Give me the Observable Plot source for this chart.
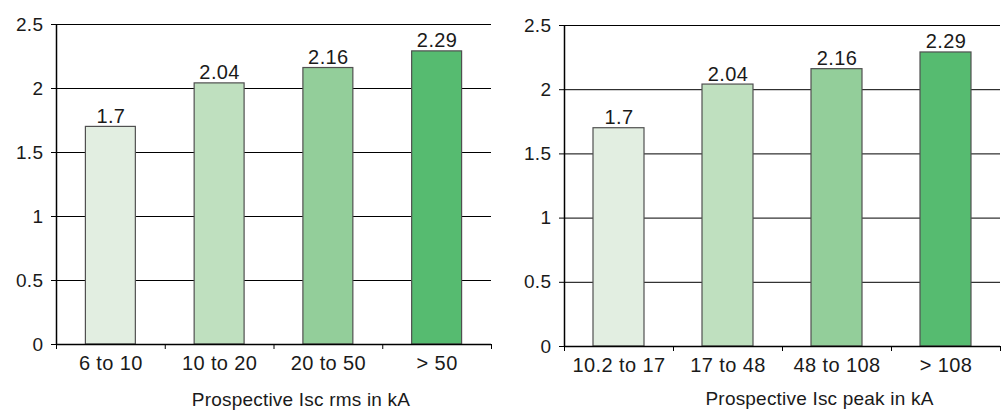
<!DOCTYPE html>
<html>
<head>
<meta charset="utf-8">
<script src="https://cdn.jsdelivr.net/npm/d3@7"></script>
<script src="https://cdn.jsdelivr.net/npm/@observablehq/plot@0.6"></script>
<style>
  html, body { margin: 0; padding: 0; background: #fff; }
  #charts { display: flex; width: 1008px; height: 412px; }
  #charts svg { font-family: "Liberation Sans", Arial, sans-serif; color: #1a1a1a; }
  #charts svg text { letter-spacing: 0.4px; }
  #charts svg .axis-title text { letter-spacing: 0.2px; }
</style>
</head>
<body>
<div id="charts"></div>
<script>
// Ratio of peak to rms current for each prospective short-circuit range
const rmsCategories = ["6 to 10", "10 to 20", "20 to 50", "> 50"];
const peakCategories = ["10.2 to 17", "17 to 48", "48 to 108", "> 108"];
const ratios = [1.7, 2.04, 2.16, 2.29];
const barColors = ["#e2eee1", "#bfe0bf", "#93ce9a", "#56bb70"];
const yTicks = [0, 0.5, 1, 1.5, 2, 2.5];
const rmsTitle = "Prospective Isc rms in kA";
const peakTitle = "Prospective Isc peak in kA";

function panel(categories, title, m) {
  const rows = categories.map((c, i) => ({cat: c, value: ratios[i], color: barColors[i], i}));
  const n = categories.length;
  const edges = d3.range(n + 1);
  const centers = d3.range(n).map(i => i + 0.5);
  return Plot.plot({
    width: 504,
    height: 412,
    marginLeft: m.left,
    marginRight: m.right,
    marginTop: m.top,
    marginBottom: m.bottom,
    style: {fontSize: "20px", background: "#fff"},
    x: {type: "linear", domain: [0, n], axis: null},
    y: {domain: [0, 2.5], axis: null},
    marks: [
      // horizontal gridlines
      Plot.ruleY(yTicks.filter(t => t > 0), {stroke: "#000", strokeWidth: 1}),
      // bars, one per range
      Plot.rectY(rows, {
        x1: d => d.i, x2: d => d.i + 1, y1: 0, y2: "value",
        insetLeft: m.inset, insetRight: m.inset,
        fill: "color", stroke: "#505050", strokeWidth: 1.2
      }),
      // value labels above the bars
      Plot.text(rows, {
        x: d => d.i + 0.5, y: "value", text: d => String(d.value),
        lineAnchor: "bottom", dy: -4, fontSize: 20, fill: "#1a1a1a"
      }),
      // baseline and vertical axis line
      Plot.ruleY([0], {stroke: "#000", strokeWidth: 1.5}),
      Plot.ruleX([0], {stroke: "#000", strokeWidth: 1.5}),
      // y axis ticks and labels
      Plot.axisY(yTicks, {
        label: null, tickSize: 5, tickPadding: 8, tickFormat: d => String(d),
        fontSize: 19, stroke: "#000"
      }),
      // category boundary ticks
      Plot.axisX(edges, {label: null, tickSize: 5, tickFormat: () => "", stroke: "#000"}),
      // category labels
      Plot.axisX(centers, {
        label: null, tickSize: 0, tickPadding: 11, fontSize: 20,
        tickFormat: (d, k) => categories[k]
      }),
      // axis title
      Plot.text([title], {
        frameAnchor: "bottom", dx: m.titleDx, dy: m.titleDy, className: "axis-title",
        lineAnchor: "middle", fontSize: 19, fill: "#1a1a1a"
      })
    ]
  });
}

const host = document.getElementById("charts");
host.append(panel(rmsCategories, rmsTitle, {left: 56, right: 13, top: 24, bottom: 68, inset: 29.4, titleDx: 27, titleDy: 55}));
host.append(panel(peakCategories, peakTitle, {left: 60, right: 8, top: 25, bottom: 66, inset: 29, titleDx: 37, titleDy: 52}));
</script>
</body>
</html>
